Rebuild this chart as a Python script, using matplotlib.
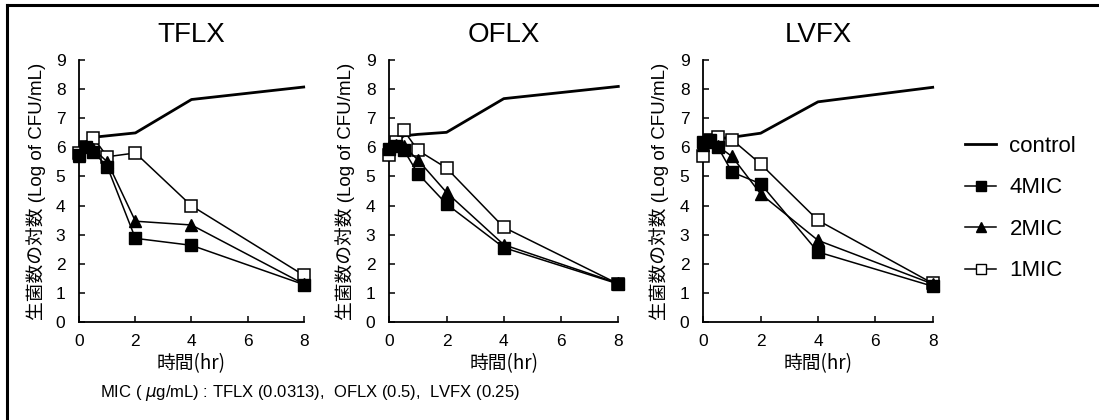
import matplotlib.pyplot as plt
from matplotlib.lines import Line2D

# sampling times (hr)
times = [0, 0.25, 0.5, 1, 2, 4, 8]

drugs = ['TFLX', 'OFLX', 'LVFX']

# log CFU/mL
tflx_control = [5.8, 6.0, 6.35, 6.4, 6.5, 7.65, 8.08]
tflx_4mic = [5.75, 6.0, 5.85, 5.33, 2.87, 2.63, 1.28]
tflx_2mic = [5.7, 6.05, 5.95, 5.5, 3.46, 3.33, 1.3]
tflx_1mic = [5.8, 6.0, 6.33, 5.68, 5.81, 3.99, 1.6]

oflx_control = [5.8, 6.2, 6.4, 6.45, 6.52, 7.68, 8.1]
oflx_4mic = [5.95, 6.05, 5.92, 5.1, 4.05, 2.55, 1.3]
oflx_2mic = [6.0, 6.1, 6.05, 5.57, 4.45, 2.65, 1.32]
oflx_1mic = [5.75, 6.18, 6.59, 5.9, 5.29, 3.25, 1.3]

lvfx_control = [5.75, 6.25, 6.3, 6.35, 6.49, 7.57, 8.07]
lvfx_4mic = [6.2, 6.24, 6.03, 5.15, 4.75, 2.4, 1.22]
lvfx_2mic = [6.1, 6.2, 6.05, 5.69, 4.4, 2.8, 1.3]
lvfx_1mic = [5.72, 6.27, 6.35, 6.27, 5.43, 3.49, 1.32]

series_labels = ['control', '4MIC', '2MIC', '1MIC']
mic_note = 'MIC ( $\\mu$g/mL) : TFLX (0.0313),  OFLX (0.5),  LVFX (0.25)'
xlabel = '時間(hr)'
ylabel = '生菌数の対数 (Log of CFU/mL)'

panel_data = [
    (tflx_control, tflx_4mic, tflx_2mic, tflx_1mic),
    (oflx_control, oflx_4mic, oflx_2mic, oflx_1mic),
    (lvfx_control, lvfx_4mic, lvfx_2mic, lvfx_1mic),
]

plt.rcParams['font.family'] = ['Liberation Sans', 'DejaVu Sans']
jp = ['Liberation Sans', 'Noto Sans CJK JP']
jp2 = ['Noto Sans CJK JP', 'DejaVu Sans']

W, H = 1099, 420
fig = plt.figure(figsize=(W / 100, H / 100), dpi=100)

# axes boxes in pixels: left, right, top (y=9), bottom (y=0)
boxes = [(79.3, 303.7), (389.3, 618.3), (703.3, 932.7)]
top_px, bot_px = 60.3, 321.7

for (l, r), name, (ctrl, m4, m2, m1) in zip(boxes, drugs, panel_data):
    ax = fig.add_axes([l / W, 1 - bot_px / H, (r - l) / W, (bot_px - top_px) / H])
    ax.plot(times, ctrl, color='black', lw=2.0, clip_on=False, zorder=3)
    ax.plot(times, m1, color='black', lw=1.1, marker='s', ms=8,
            mfc='white', mec='black', mew=1.1, clip_on=False, zorder=4)
    ax.plot(times, m2, color='black', lw=1.1, marker='^', ms=8,
            mfc='black', mec='black', clip_on=False, zorder=5)
    ax.plot(times, m4, color='black', lw=1.1, marker='s', ms=8,
            mfc='black', mec='black', clip_on=False, zorder=6)
    ax.set_xlim(0, 8)
    ax.set_ylim(0, 9)
    ax.set_xticks([0, 2, 4, 6, 8])
    ax.set_yticks(range(10))
    ax.spines['top'].set_visible(False)
    ax.spines['right'].set_visible(False)
    for s in ['left', 'bottom']:
        ax.spines[s].set_linewidth(1.3)
    ax.tick_params(direction='in', length=4, width=1.1, labelsize=12.5)
    ax.tick_params(axis='x', pad=9)
    ax.tick_params(axis='y', pad=10)
    ax.set_title(name, fontsize=20, pad=13)
    ax.set_xlabel(xlabel, fontsize=13.5, family=jp2, labelpad=3)
    ax.set_ylabel(ylabel, fontsize=13.5, family=jp)
    ax.yaxis.set_label_coords(-0.15, 0.5)

handles = [
    Line2D([], [], color='black', lw=2.0),
    Line2D([], [], color='black', lw=1.1, marker='s', ms=6.5, mfc='black'),
    Line2D([], [], color='black', lw=1.1, marker='^', ms=6.5, mfc='black'),
    Line2D([], [], color='black', lw=1.1, marker='s', ms=6.5, mfc='white'),
]
fig.legend(handles, series_labels, loc='upper left', bbox_to_anchor=(945 / W, 1 - 116 / H),
           frameon=False, fontsize=16, handlelength=1.4, handletextpad=0.6,
           labelspacing=0.92)

fig.text(100 / W, 1 - 393 / H, mic_note, fontsize=12, family=jp, va='center')

# frame lines (left and top only are visible in the reference)
fig.add_artist(Line2D([7 / W, 7 / W], [0, 1 - 4.5 / H], color='black', lw=2.2))
fig.add_artist(Line2D([7 / W, 1], [1 - 4.5 / H, 1 - 4.5 / H], color='black', lw=2.2))

fig.savefig('out.png', dpi=100)
